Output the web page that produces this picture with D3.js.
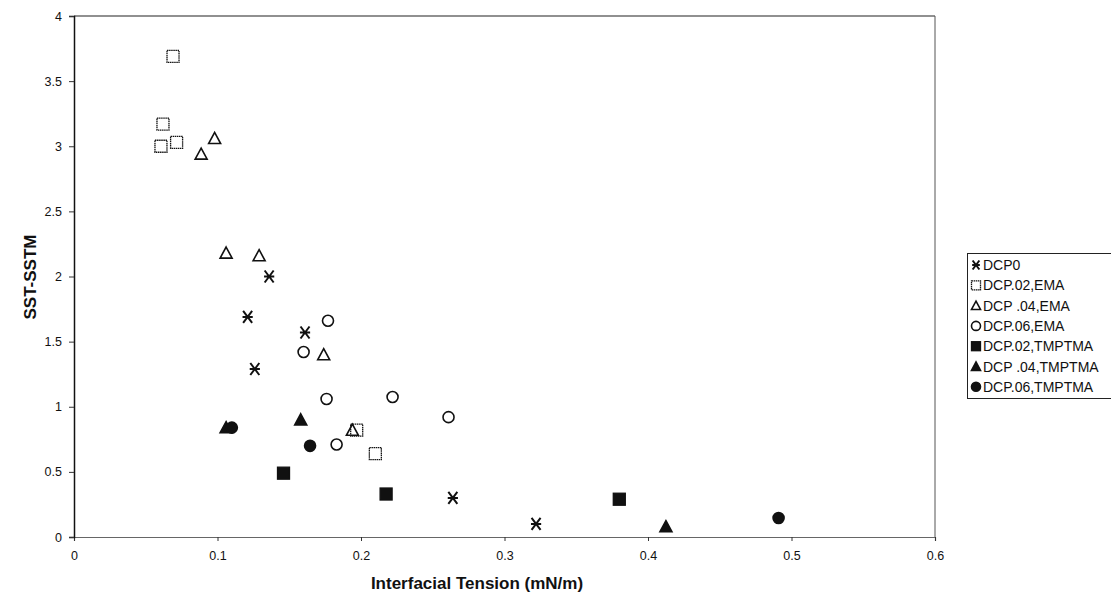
<!DOCTYPE html>
<html><head><meta charset="utf-8">
<script src="https://cdn.jsdelivr.net/npm/d3@7"></script>
<style>body{margin:0;background:#fff}svg{display:block}text{font-family:"Liberation Sans",Arial,sans-serif}</style>
</head><body><svg id="c" width="1111" height="602"></svg>
<script>
const seriesNames = ["DCP0","DCP.02,EMA","DCP .04,EMA","DCP.06,EMA","DCP.02,TMPTMA","DCP .04,TMPTMA","DCP.06,TMPTMA"];
const dcp0X = [0.121,0.126,0.136,0.161,0.264,0.322];
const dcp0Y = [1.69,1.29,2.0,1.57,0.30,0.10];
const dcp02emaX = [0.0606,0.062,0.069,0.0715,0.197,0.210];
const dcp02emaY = [3.0,3.17,3.69,3.03,0.82,0.64];
const dcp04emaX = [0.0886,0.098,0.106,0.129,0.174,0.194];
const dcp04emaY = [2.94,3.06,2.18,2.16,1.40,0.82];
const dcp06emaX = [0.160,0.177,0.176,0.222,0.261,0.183];
const dcp06emaY = [1.42,1.66,1.06,1.075,0.92,0.71];
const dcp02tmX = [0.146,0.2175,0.380];
const dcp02tmY = [0.49,0.33,0.29];
const dcp04tmX = [0.106,0.158,0.4125];
const dcp04tmY = [0.84,0.90,0.08];
const dcp06tmX = [0.110,0.1645,0.491];
const dcp06tmY = [0.84,0.70,0.146];
const xTicks = [0,0.1,0.2,0.3,0.4,0.5,0.6];
const yTicks = [0,0.5,1,1.5,2,2.5,3,3.5,4];

const allX = [dcp0X,dcp02emaX,dcp04emaX,dcp06emaX,dcp02tmX,dcp04tmX,dcp06tmX];
const allY = [dcp0Y,dcp02emaY,dcp04emaY,dcp06emaY,dcp02tmY,dcp04tmY,dcp06tmY];
const shapes = ["asterisk","square","triangle","circle","square","triangle","circle"];
const filled = [true,false,false,false,true,true,true];

const svg = d3.select("#c");
const L=74,R=935,T=16,B=537;
const x = d3.scaleLinear().domain([0,0.6]).range([L,R]);
const y = d3.scaleLinear().domain([0,4]).range([B,T]);

// frame
svg.append("line").attr("x1",L).attr("x2",R).attr("y1",T).attr("y2",T).attr("stroke","#222").attr("stroke-width",1.2);
svg.append("line").attr("x1",R).attr("x2",R).attr("y1",T).attr("y2",B).attr("stroke","#555").attr("stroke-width",1);

const xa = svg.append("g").attr("transform",`translate(0,${B})`)
  .call(d3.axisBottom(x).tickValues(xTicks).tickFormat(d=>d3.format("")(d)).tickSize(4).tickPadding(10));
const ya = svg.append("g").attr("transform",`translate(${L},0)`)
  .call(d3.axisLeft(y).tickValues(yTicks).tickFormat(d=>d3.format("")(d)).tickSize(5).tickPadding(7));
[xa,ya].forEach(a=>{a.selectAll("text").attr("font-size",12.5).attr("fill","#111");a.selectAll("line").attr("stroke","#333");});
xa.select(".domain").attr("stroke","#666").attr("stroke-width",1.2);
ya.select(".domain").attr("stroke","#111").attr("stroke-width",1.5);

svg.append("text").attr("x",477).attr("y",589).attr("text-anchor","middle")
  .attr("font-size",17).attr("font-weight","bold").attr("fill","#111").text("Interfacial Tension (mN/m)");
svg.append("text").attr("transform","translate(36,277) rotate(-90)").attr("text-anchor","middle")
  .attr("font-size",17).attr("font-weight","bold").attr("fill","#111").text("SST-SSTM");

function drawMarker(g, shape, isFilled, s){
  const col="#111";
  if(shape==="asterisk"){
    const h=s/2;
    g.append("path").attr("d",`M${-h*0.75},${-h}L${h*0.75},${h}M${h*0.75},${-h}L${-h*0.75},${h}M${-h*0.85},0L${h*0.85},0`)
      .attr("stroke",col).attr("stroke-width",2).attr("fill","none");
  } else if(shape==="square"){
    g.append("rect").attr("x",-s/2).attr("y",-s/2).attr("width",s).attr("height",s)
      .attr("fill",isFilled?col:"#fff").attr("stroke",col).attr("stroke-width",1.3)
      .attr("stroke-dasharray",isFilled?null:"1.5,0.6");
  } else if(shape==="triangle"){
    const h=s/2;
    g.append("path").attr("d",`M0,${-h}L${h},${h*0.85}L${-h},${h*0.85}Z`)
      .attr("fill",isFilled?col:"none").attr("stroke",col).attr("stroke-width",1.6);
  } else {
    g.append("circle").attr("r",s/2).attr("fill",isFilled?col:"#fff").attr("stroke",col).attr("stroke-width",1.6);
  }
}

allX.forEach((xs,i)=>{
  xs.forEach((xv,j)=>{
    const g = svg.append("g").attr("transform",`translate(${x(xv)},${y(allY[i][j])})`);
    drawMarker(g, shapes[i], filled[i], shapes[i]==="circle"?11:12);
  });
});

// legend
const lg = svg.append("g");
lg.append("rect").attr("x",967.5).attr("y",253.5).attr("width",160).attr("height",145)
  .attr("fill","#fff").attr("stroke","#222").attr("stroke-width",1);
seriesNames.forEach((n,i)=>{
  const yy = 265 + i*20.3;
  const g = lg.append("g").attr("transform",`translate(976,${yy})`);
  drawMarker(g, shapes[i], filled[i], 9);
  lg.append("text").attr("x",983).attr("y",yy+5).attr("font-size",14).attr("fill","#111").text(n);
});
</script></body></html>
